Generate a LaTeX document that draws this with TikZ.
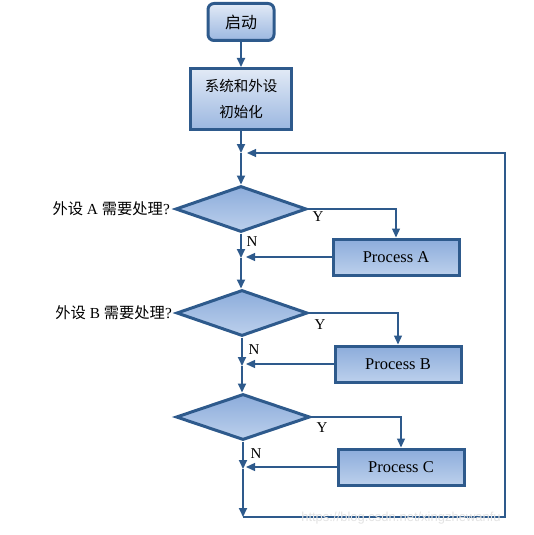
\documentclass[tikz,border=0pt]{standalone}
\usepackage{fontspec}
\setmainfont{Liberation Serif}
\newfontfamily\cjk{Noto Sans CJK SC}
\newfontfamily\wmfont{Liberation Sans}
\usetikzlibrary{shapes.geometric,arrows.meta}
\definecolor{edge}{HTML}{2E5A8C}
\definecolor{lightA}{HTML}{E2EAF6}
\definecolor{darkA}{HTML}{9BB7E0}
\definecolor{darkB}{HTML}{8CACDB}
\definecolor{lightB}{HTML}{BCD0EC}
\tikzset{
  startbox/.style={draw=edge, line width=3pt, rounded corners=6pt, top color=lightA, bottom color=darkA, minimum width=66pt, minimum height=37pt, inner sep=0pt, font=\cjk\fontsize{16}{18}\selectfont},
  initbox/.style={draw=edge, line width=3pt, top color=lightA, bottom color=darkA, minimum width=101pt, minimum height=61pt, inner sep=0pt, align=center, font=\cjk\fontsize{14.5}{26}\selectfont},
  procbox/.style={draw=edge, line width=3pt, top color=darkB, bottom color=lightB, minimum width=126pt, minimum height=36pt, inner sep=0pt, font=\fontsize{16.5}{18}\selectfont},
  decision/.style={diamond, draw=edge, line width=3pt, top color=darkB, bottom color=lightB, minimum width=131pt, minimum height=46pt, inner sep=0pt},
  qlabel/.style={anchor=east, inner sep=0pt, font=\fontsize{15.3}{17}\selectfont},
  yn/.style={inner sep=0pt, font=\fontsize{15}{16}\selectfont},
  mainflow/.style={draw=edge, line width=1.8pt, -{Triangle[length=9pt,width=8pt]}},
  branch/.style={draw=edge, line width=1.3pt, -{Triangle[length=9pt,width=8pt]}},
  loopline/.style={draw=edge, line width=1.1pt},
}
\begin{document}
\begin{tikzpicture}[x=1pt,y=-1pt]
\useasboundingbox (0,0) rectangle (533,535);
% nodes
\node[startbox] (start) at (241,22) {启动};
\node[initbox] (init) at (241,99) {系统和外设\\初始化};
\node[decision] (dA) at (241,209) {};
\node[decision] (dB) at (242,313) {};
\node[decision, minimum width=134pt] (dC) at (243,417) {};
\node[procbox] (pA) at (396,257) {Process A};
\node[procbox] (pB) at (398,364) {Process B};
\node[procbox] (pC) at (401,467) {Process C};
\node[qlabel] (qA) at (170,209) {{\cjk 外设} A {\cjk 需要处理}?};
\node[qlabel] (qB) at (172,313) {{\cjk 外设} B {\cjk 需要处理}?};
% junctions
\coordinate (j0) at (241,153);
\coordinate (jA) at (241,258);
\coordinate (jB) at (242,366);
\coordinate (jC) at (243,469);
\coordinate (bot) at (243,517);
\coordinate (br) at (505,517);
\coordinate (tr) at (505,153);
% main flow
\draw[mainflow] (start) -- (init);
\draw[mainflow] (init.south) -- (j0);
\draw[mainflow] (j0) -- (dA.north);
\draw[mainflow] (dA.south) -- (jA);
\draw[mainflow] (jA) -- (jA |- dB.north);
\draw[mainflow] (dB.south) -- (jB);
\draw[mainflow] (jB) -- (jB |- dC.north);
\draw[mainflow] (dC.south) -- (jC);
\draw[mainflow] (jC) -- (bot);
% Y branches
\draw[branch] (dA.east) -| (pA.north);
\draw[branch] (dB.east) -| (pB.north);
\draw[branch] (dC.east) -| (pC.north);
% returns
\draw[branch, shorten >=5pt] (pA.west) -- (pA.west -| jA);
\draw[branch, shorten >=4pt] (pB.west) -- (pB.west -| jB);
\draw[branch, shorten >=3pt] (pC.west) -- (pC.west -| jC);
% loop back
\draw[loopline, -{Triangle[length=9pt,width=8pt]}, shorten >=6pt] (bot) -- (br) -- (tr) -- (j0);
% labels
\node[yn] (yA) at (318,217) {Y};
\node[yn] (yB) at (320,325) {Y};
\node[yn] (yC) at (322,428) {Y};
\node[yn] (nA) at (252,242) {N};
\node[yn] (nB) at (254,350) {N};
\node[yn] (nC) at (256,454) {N};
% watermark
\node[text=gray!22, inner sep=0pt, font=\wmfont\fontsize{13}{14}\selectfont] (wm) at (401,518) {https://blog.csdn.net/xingzhewanfu};
\end{tikzpicture}
\end{document}
